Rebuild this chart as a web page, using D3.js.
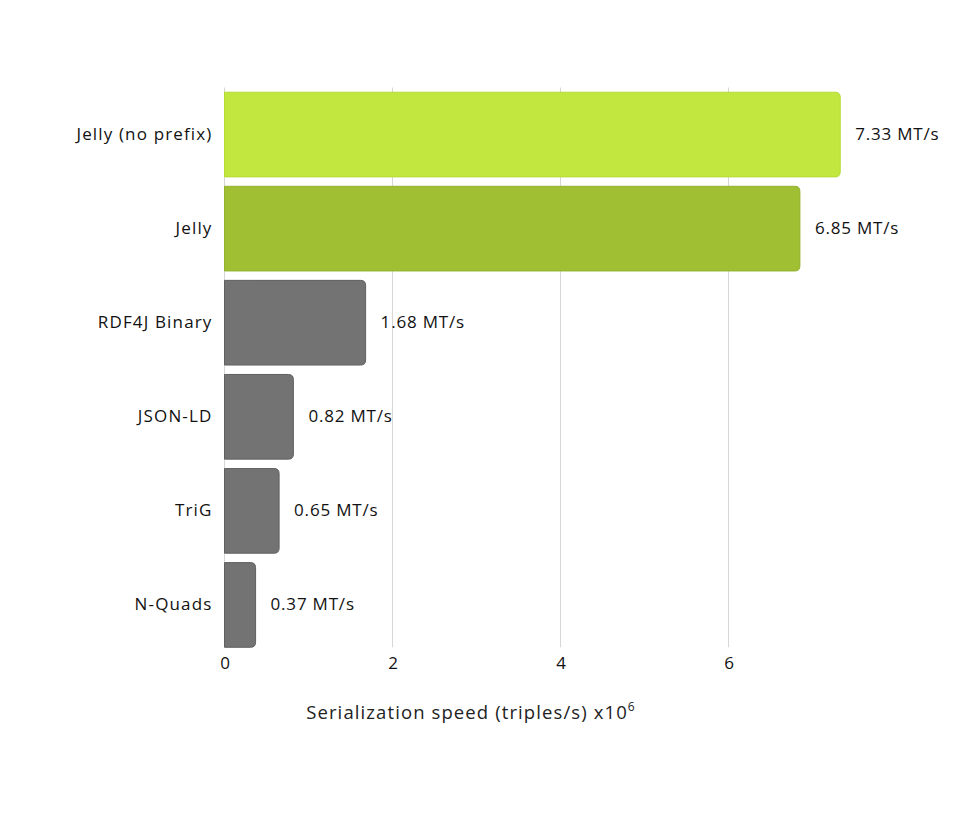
<!DOCTYPE html>
<html>
<head>
<meta charset="utf-8">
<script src="https://cdn.jsdelivr.net/npm/d3@7"></script>
<style>
  html, body { margin: 0; padding: 0; background: #fff; }
  svg { display: block; font-family: "Open Sans", "Noto Sans", sans-serif; }
</style>
</head>
<body>
<svg id="chart" width="980" height="817"></svg>
<script>
const categories = ["Jelly (no prefix)", "Jelly", "RDF4J Binary", "JSON-LD", "TriG", "N-Quads"];
const speeds = [7.33, 6.85, 1.68, 0.82, 0.65, 0.37];
const valueLabels = ["7.33 MT/s", "6.85 MT/s", "1.68 MT/s", "0.82 MT/s", "0.65 MT/s", "0.37 MT/s"];
const barColors = ["#c2e83f", "#a0bf33", "#737373", "#737373", "#737373", "#737373"];
const barStrokes = ["#b5dc35", "#94b22c", "#606060", "#606060", "#606060", "#606060"];
const xTicks = [0, 2, 4, 6];

const svg = d3.select("#chart");
const left = 224.5, plotTop = 87.5, plotBottom = 652;

const x = d3.scaleLinear().domain([0, 7.33]).range([left, left + 7.33 * 84]);
const y = d3.scaleBand().domain(categories).range([plotTop, plotBottom]).paddingInner(0.1).paddingOuter(0.05);

// gridlines
svg.append("g").selectAll("line").data(xTicks).join("line")
  .attr("x1", d => x(d)).attr("x2", d => x(d))
  .attr("y1", plotTop).attr("y2", y(categories[categories.length - 1]) + y.bandwidth())
  .attr("stroke", "#d6d6d6").attr("stroke-width", 1);

// x tick labels
const xAxis = d3.axisBottom(x).tickValues(xTicks).tickSize(0).tickPadding(0).tickFormat(d3.format("d"));
const gx = svg.append("g").attr("transform", `translate(0, ${y(categories[5]) + y.bandwidth() + 6})`).call(xAxis);
gx.select(".domain").remove();
gx.selectAll("text").attr("font-size", 17).attr("fill", "#111").attr("dy", "0.9em")
  .attr("font-family", "\"Open Sans\", sans-serif");

// bars with right-rounded corners
const r = 5;
function barPath(d, i) {
  const x0 = x(0), x1 = x(d), y0 = y(categories[i]), h = y.bandwidth();
  const rr = Math.min(r, (x1 - x0) / 2);
  return `M${x0},${y0}H${x1 - rr}Q${x1},${y0} ${x1},${y0 + rr}V${y0 + h - rr}Q${x1},${y0 + h} ${x1 - rr},${y0 + h}H${x0}Z`;
}
svg.append("g").selectAll("path").data(speeds).join("path")
  .attr("d", barPath)
  .attr("fill", (d, i) => barColors[i])
  .attr("stroke", (d, i) => barStrokes[i])
  .attr("stroke-width", 1);

// category labels
svg.append("g").selectAll("text").data(categories).join("text")
  .attr("x", left - 12)
  .attr("y", d => y(d) + y.bandwidth() / 2 - 1.5)
  .attr("text-anchor", "end").attr("dominant-baseline", "central")
  .attr("font-size", 17).attr("letter-spacing", 1.15).attr("fill", "#111")
  .text(d => d);

// value labels
svg.append("g").selectAll("text").data(speeds).join("text")
  .attr("x", d => x(d) + 15)
  .attr("y", (d, i) => y(categories[i]) + y.bandwidth() / 2 - 1.5)
  .attr("dominant-baseline", "central")
  .attr("font-size", 17).attr("letter-spacing", 0.8).attr("fill", "#111")
  .text((d, i) => valueLabels[i]);

// axis title
const title = svg.append("text")
  .attr("x", 471).attr("y", 719)
  .attr("text-anchor", "middle")
  .attr("font-size", 18.5).attr("letter-spacing", 1.1).attr("fill", "#222");
title.append("tspan").text("Serialization speed (triples/s) x10");
title.append("tspan").attr("dy", -8).attr("font-size", 12).text("6");
</script>
</body>
</html>
